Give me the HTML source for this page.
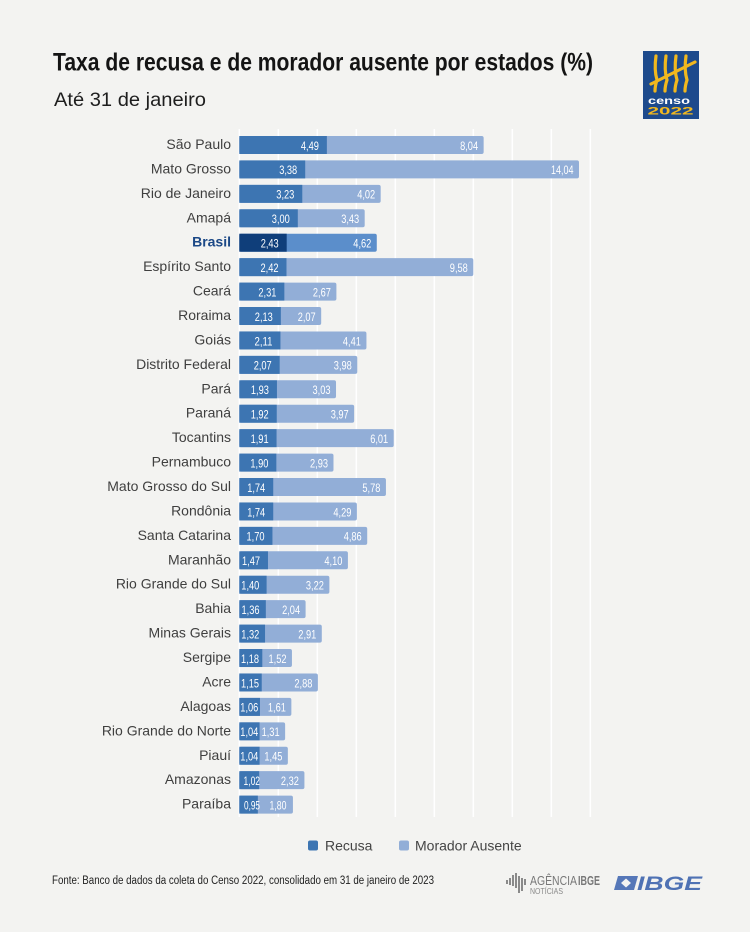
<!DOCTYPE html>
<html><head><meta charset="utf-8">
<style>
html,body{margin:0;padding:0;background:#f3f3f1;}
svg{display:block;}
.st{font-family:"Liberation Sans",sans-serif;font-size:14px;fill:#3f3f3f;text-anchor:end;}
.v{font-family:"Liberation Sans",sans-serif;font-size:12px;fill:#ffffff;text-anchor:end;}
</style></head>
<body>
<svg width="750" height="932" viewBox="0 0 750 932" xmlns="http://www.w3.org/2000/svg">
<rect width="750" height="932" fill="#f3f3f1"/>
<text x="53" y="70.5" font-family="Liberation Sans, sans-serif" font-weight="bold" font-size="25" fill="#141414" textLength="540" lengthAdjust="spacingAndGlyphs">Taxa de recusa e de morador ausente por estados (%)</text>
<text x="54" y="106" font-family="Liberation Sans, sans-serif" font-size="19.5" fill="#1e1e1e" textLength="152" lengthAdjust="spacingAndGlyphs">Até 31 de janeiro</text>

<!-- Censo logo -->
<rect x="643" y="51" width="56" height="68" fill="#1d4a8c"/>
<g stroke="#f2b81e" stroke-width="3.2" stroke-linecap="round" fill="none">
<path d="M656 56 Q654 70 657 80 Q655 86 655 91"/>
<path d="M666 56 Q664 70 667 80 Q665 86 665 91"/>
<path d="M676 56 Q674 70 677 80 Q675 86 675 91"/>
<path d="M686 56 Q684 70 687 80 Q685 86 685 91"/>
<path d="M651 84 L695 62"/>
</g>
<text x="669" y="104" text-anchor="middle" font-family="Liberation Sans, sans-serif" font-weight="bold" font-size="10" fill="#ffffff" textLength="42" lengthAdjust="spacingAndGlyphs">censo</text>
<text x="670.5" y="114.5" text-anchor="middle" font-family="Liberation Sans, sans-serif" font-weight="bold" font-size="11" fill="#f2b81e" textLength="46" lengthAdjust="spacingAndGlyphs">2022</text>

<!-- gridlines -->
<g stroke="#ffffff" stroke-width="1.5">
<line x1="239.3" y1="129" x2="239.3" y2="817"/>
<line x1="278.3" y1="129" x2="278.3" y2="817"/>
<line x1="317.3" y1="129" x2="317.3" y2="817"/>
<line x1="356.3" y1="129" x2="356.3" y2="817"/>
<line x1="395.3" y1="129" x2="395.3" y2="817"/>
<line x1="434.3" y1="129" x2="434.3" y2="817"/>
<line x1="473.3" y1="129" x2="473.3" y2="817"/>
<line x1="512.3" y1="129" x2="512.3" y2="817"/>
<line x1="551.3" y1="129" x2="551.3" y2="817"/>
<line x1="590.3" y1="129" x2="590.3" y2="817"/>
</g>

<g transform="translate(0,145)"><rect x="239.3" y="-9" width="244.34" height="18" rx="2" fill="#92aed7"/><rect x="239.3" y="-9" width="87.56" height="18" fill="#3d75b2"/><text x="231" y="4" class="st">São Paulo</text><text x="318.9" y="4.8" class="v" textLength="18" lengthAdjust="spacingAndGlyphs">4,49</text><text x="478.1" y="4.8" class="v" textLength="18" lengthAdjust="spacingAndGlyphs">8,04</text></g>
<g transform="translate(0,169.43)"><rect x="239.3" y="-9" width="339.69" height="18" rx="2" fill="#92aed7"/><rect x="239.3" y="-9" width="65.91" height="18" fill="#3d75b2"/><text x="231" y="4" class="st">Mato Grosso</text><text x="297.2" y="4.8" class="v" textLength="18" lengthAdjust="spacingAndGlyphs">3,38</text><text x="573.5" y="4.8" class="v" textLength="22.5" lengthAdjust="spacingAndGlyphs">14,04</text></g>
<g transform="translate(0,193.86)"><rect x="239.3" y="-9" width="141.38" height="18" rx="2" fill="#92aed7"/><rect x="239.3" y="-9" width="62.99" height="18" fill="#3d75b2"/><text x="231" y="4" class="st">Rio de Janeiro</text><text x="294.3" y="4.8" class="v" textLength="18" lengthAdjust="spacingAndGlyphs">3,23</text><text x="375.2" y="4.8" class="v" textLength="18" lengthAdjust="spacingAndGlyphs">4,02</text></g>
<g transform="translate(0,218.29)"><rect x="239.3" y="-9" width="125.39" height="18" rx="2" fill="#92aed7"/><rect x="239.3" y="-9" width="58.5" height="18" fill="#3d75b2"/><text x="231" y="4" class="st">Amapá</text><text x="289.8" y="4.8" class="v" textLength="18" lengthAdjust="spacingAndGlyphs">3,00</text><text x="359.2" y="4.8" class="v" textLength="18" lengthAdjust="spacingAndGlyphs">3,43</text></g>
<g transform="translate(0,242.72)"><rect x="239.3" y="-9" width="137.48" height="18" rx="2" fill="#5b8ecb"/><rect x="239.3" y="-9" width="47.39" height="18" fill="#0f3e7a"/><text x="231" y="4" class="st" style="font-weight:bold;fill:#1b4886">Brasil</text><text x="278.7" y="4.8" class="v" textLength="18" lengthAdjust="spacingAndGlyphs">2,43</text><text x="371.3" y="4.8" class="v" textLength="18" lengthAdjust="spacingAndGlyphs">4,62</text></g>
<g transform="translate(0,267.15)"><rect x="239.3" y="-9" width="234" height="18" rx="2" fill="#92aed7"/><rect x="239.3" y="-9" width="47.19" height="18" fill="#3d75b2"/><text x="231" y="4" class="st">Espírito Santo</text><text x="278.5" y="4.8" class="v" textLength="18" lengthAdjust="spacingAndGlyphs">2,42</text><text x="467.8" y="4.8" class="v" textLength="18" lengthAdjust="spacingAndGlyphs">9,58</text></g>
<g transform="translate(0,291.58)"><rect x="239.3" y="-9" width="97.11" height="18" rx="2" fill="#92aed7"/><rect x="239.3" y="-9" width="45.05" height="18" fill="#3d75b2"/><text x="231" y="4" class="st">Ceará</text><text x="276.4" y="4.8" class="v" textLength="18" lengthAdjust="spacingAndGlyphs">2,31</text><text x="330.9" y="4.8" class="v" textLength="18" lengthAdjust="spacingAndGlyphs">2,67</text></g>
<g transform="translate(0,316.01)"><rect x="239.3" y="-9" width="81.9" height="18" rx="2" fill="#92aed7"/><rect x="239.3" y="-9" width="41.54" height="18" fill="#3d75b2"/><text x="231" y="4" class="st">Roraima</text><text x="272.8" y="4.8" class="v" textLength="18" lengthAdjust="spacingAndGlyphs">2,13</text><text x="315.7" y="4.8" class="v" textLength="18" lengthAdjust="spacingAndGlyphs">2,07</text></g>
<g transform="translate(0,340.44)"><rect x="239.3" y="-9" width="127.14" height="18" rx="2" fill="#92aed7"/><rect x="239.3" y="-9" width="41.15" height="18" fill="#3d75b2"/><text x="231" y="4" class="st">Goiás</text><text x="272.5" y="4.8" class="v" textLength="18" lengthAdjust="spacingAndGlyphs">2,11</text><text x="360.9" y="4.8" class="v" textLength="18" lengthAdjust="spacingAndGlyphs">4,41</text></g>
<g transform="translate(0,364.87)"><rect x="239.3" y="-9" width="117.98" height="18" rx="2" fill="#92aed7"/><rect x="239.3" y="-9" width="40.37" height="18" fill="#3d75b2"/><text x="231" y="4" class="st">Distrito Federal</text><text x="271.7" y="4.8" class="v" textLength="18" lengthAdjust="spacingAndGlyphs">2,07</text><text x="351.8" y="4.8" class="v" textLength="18" lengthAdjust="spacingAndGlyphs">3,98</text></g>
<g transform="translate(0,389.3)"><rect x="239.3" y="-9" width="96.72" height="18" rx="2" fill="#92aed7"/><rect x="239.3" y="-9" width="37.64" height="18" fill="#3d75b2"/><text x="231" y="4" class="st">Pará</text><text x="268.9" y="4.8" class="v" textLength="18" lengthAdjust="spacingAndGlyphs">1,93</text><text x="330.5" y="4.8" class="v" textLength="18" lengthAdjust="spacingAndGlyphs">3,03</text></g>
<g transform="translate(0,413.73)"><rect x="239.3" y="-9" width="114.86" height="18" rx="2" fill="#92aed7"/><rect x="239.3" y="-9" width="37.44" height="18" fill="#3d75b2"/><text x="231" y="4" class="st">Paraná</text><text x="268.7" y="4.8" class="v" textLength="18" lengthAdjust="spacingAndGlyphs">1,92</text><text x="348.7" y="4.8" class="v" textLength="18" lengthAdjust="spacingAndGlyphs">3,97</text></g>
<g transform="translate(0,438.16)"><rect x="239.3" y="-9" width="154.44" height="18" rx="2" fill="#92aed7"/><rect x="239.3" y="-9" width="37.25" height="18" fill="#3d75b2"/><text x="231" y="4" class="st">Tocantins</text><text x="268.6" y="4.8" class="v" textLength="18" lengthAdjust="spacingAndGlyphs">1,91</text><text x="388.2" y="4.8" class="v" textLength="18" lengthAdjust="spacingAndGlyphs">6,01</text></g>
<g transform="translate(0,462.59)"><rect x="239.3" y="-9" width="94.19" height="18" rx="2" fill="#92aed7"/><rect x="239.3" y="-9" width="37.05" height="18" fill="#3d75b2"/><text x="231" y="4" class="st">Pernambuco</text><text x="268.4" y="4.8" class="v" textLength="18" lengthAdjust="spacingAndGlyphs">1,90</text><text x="328" y="4.8" class="v" textLength="18" lengthAdjust="spacingAndGlyphs">2,93</text></g>
<g transform="translate(0,487.02)"><rect x="239.3" y="-9" width="146.64" height="18" rx="2" fill="#92aed7"/><rect x="239.3" y="-9" width="33.93" height="18" fill="#3d75b2"/><text x="231" y="4" class="st">Mato Grosso do Sul</text><text x="265.2" y="4.8" class="v" textLength="18" lengthAdjust="spacingAndGlyphs">1,74</text><text x="380.4" y="4.8" class="v" textLength="18" lengthAdjust="spacingAndGlyphs">5,78</text></g>
<g transform="translate(0,511.45)"><rect x="239.3" y="-9" width="117.59" height="18" rx="2" fill="#92aed7"/><rect x="239.3" y="-9" width="33.93" height="18" fill="#3d75b2"/><text x="231" y="4" class="st">Rondônia</text><text x="265.2" y="4.8" class="v" textLength="18" lengthAdjust="spacingAndGlyphs">1,74</text><text x="351.4" y="4.8" class="v" textLength="18" lengthAdjust="spacingAndGlyphs">4,29</text></g>
<g transform="translate(0,535.88)"><rect x="239.3" y="-9" width="127.92" height="18" rx="2" fill="#92aed7"/><rect x="239.3" y="-9" width="33.15" height="18" fill="#3d75b2"/><text x="231" y="4" class="st">Santa Catarina</text><text x="264.5" y="4.8" class="v" textLength="18" lengthAdjust="spacingAndGlyphs">1,70</text><text x="361.7" y="4.8" class="v" textLength="18" lengthAdjust="spacingAndGlyphs">4,86</text></g>
<g transform="translate(0,560.31)"><rect x="239.3" y="-9" width="108.62" height="18" rx="2" fill="#92aed7"/><rect x="239.3" y="-9" width="28.67" height="18" fill="#3d75b2"/><text x="231" y="4" class="st">Maranhão</text><text x="260" y="4.8" class="v" textLength="18" lengthAdjust="spacingAndGlyphs">1,47</text><text x="342.4" y="4.8" class="v" textLength="18" lengthAdjust="spacingAndGlyphs">4,10</text></g>
<g transform="translate(0,584.74)"><rect x="239.3" y="-9" width="90.09" height="18" rx="2" fill="#92aed7"/><rect x="239.3" y="-9" width="27.3" height="18" fill="#3d75b2"/><text x="231" y="4" class="st">Rio Grande do Sul</text><text x="259.3" y="4.8" class="v" textLength="18" lengthAdjust="spacingAndGlyphs">1,40</text><text x="323.9" y="4.8" class="v" textLength="18" lengthAdjust="spacingAndGlyphs">3,22</text></g>
<g transform="translate(0,609.17)"><rect x="239.3" y="-9" width="66.3" height="18" rx="2" fill="#92aed7"/><rect x="239.3" y="-9" width="26.52" height="18" fill="#3d75b2"/><text x="231" y="4" class="st">Bahia</text><text x="259.5" y="4.8" class="v" textLength="18" lengthAdjust="spacingAndGlyphs">1,36</text><text x="300.1" y="4.8" class="v" textLength="18" lengthAdjust="spacingAndGlyphs">2,04</text></g>
<g transform="translate(0,633.6)"><rect x="239.3" y="-9" width="82.49" height="18" rx="2" fill="#92aed7"/><rect x="239.3" y="-9" width="25.74" height="18" fill="#3d75b2"/><text x="231" y="4" class="st">Minas Gerais</text><text x="259.3" y="4.8" class="v" textLength="18" lengthAdjust="spacingAndGlyphs">1,32</text><text x="316.3" y="4.8" class="v" textLength="18" lengthAdjust="spacingAndGlyphs">2,91</text></g>
<g transform="translate(0,658.03)"><rect x="239.3" y="-9" width="52.65" height="18" rx="2" fill="#92aed7"/><rect x="239.3" y="-9" width="23.01" height="18" fill="#3d75b2"/><text x="231" y="4" class="st">Sergipe</text><text x="259" y="4.8" class="v" textLength="18" lengthAdjust="spacingAndGlyphs">1,18</text><text x="286.5" y="4.8" class="v" textLength="18" lengthAdjust="spacingAndGlyphs">1,52</text></g>
<g transform="translate(0,682.46)"><rect x="239.3" y="-9" width="78.59" height="18" rx="2" fill="#92aed7"/><rect x="239.3" y="-9" width="22.43" height="18" fill="#3d75b2"/><text x="231" y="4" class="st">Acre</text><text x="259" y="4.8" class="v" textLength="18" lengthAdjust="spacingAndGlyphs">1,15</text><text x="312.4" y="4.8" class="v" textLength="18" lengthAdjust="spacingAndGlyphs">2,88</text></g>
<g transform="translate(0,706.89)"><rect x="239.3" y="-9" width="52.07" height="18" rx="2" fill="#92aed7"/><rect x="239.3" y="-9" width="20.67" height="18" fill="#3d75b2"/><text x="231" y="4" class="st">Alagoas</text><text x="258.3" y="4.8" class="v" textLength="18" lengthAdjust="spacingAndGlyphs">1,06</text><text x="285.9" y="4.8" class="v" textLength="18" lengthAdjust="spacingAndGlyphs">1,61</text></g>
<g transform="translate(0,731.32)"><rect x="239.3" y="-9" width="45.83" height="18" rx="2" fill="#92aed7"/><rect x="239.3" y="-9" width="20.28" height="18" fill="#3d75b2"/><text x="231" y="4" class="st">Rio Grande do Norte</text><text x="258.3" y="4.8" class="v" textLength="18" lengthAdjust="spacingAndGlyphs">1,04</text><text x="279.6" y="4.8" class="v" textLength="18" lengthAdjust="spacingAndGlyphs">1,31</text></g>
<g transform="translate(0,755.75)"><rect x="239.3" y="-9" width="48.56" height="18" rx="2" fill="#92aed7"/><rect x="239.3" y="-9" width="20.28" height="18" fill="#3d75b2"/><text x="231" y="4" class="st">Piauí</text><text x="258.3" y="4.8" class="v" textLength="18" lengthAdjust="spacingAndGlyphs">1,04</text><text x="282.4" y="4.8" class="v" textLength="18" lengthAdjust="spacingAndGlyphs">1,45</text></g>
<g transform="translate(0,780.18)"><rect x="239.3" y="-9" width="65.13" height="18" rx="2" fill="#92aed7"/><rect x="239.3" y="-9" width="19.89" height="18" fill="#3d75b2"/><text x="231" y="4" class="st">Amazonas</text><text x="260" y="4.8" class="v" textLength="16.5" lengthAdjust="spacingAndGlyphs">1,02</text><text x="298.9" y="4.8" class="v" textLength="18" lengthAdjust="spacingAndGlyphs">2,32</text></g>
<g transform="translate(0,804.61)"><rect x="239.3" y="-9" width="53.63" height="18" rx="2" fill="#92aed7"/><rect x="239.3" y="-9" width="18.53" height="18" fill="#3d75b2"/><text x="231" y="4" class="st">Paraíba</text><text x="260" y="4.8" class="v" textLength="16" lengthAdjust="spacingAndGlyphs">0,95</text><text x="286.5" y="4.8" class="v" textLength="17" lengthAdjust="spacingAndGlyphs">1,80</text></g>

<!-- legend -->
<rect x="308" y="840.5" width="10" height="10" rx="2" fill="#3d75b2"/>
<text x="325" y="850.5" font-family="Liberation Sans, sans-serif" font-size="14" fill="#444">Recusa</text>
<rect x="399" y="840.5" width="10" height="10" rx="2" fill="#92aed7"/>
<text x="415" y="850.5" font-family="Liberation Sans, sans-serif" font-size="14" fill="#444">Morador Ausente</text>

<!-- footer -->
<text x="52" y="884" font-family="Liberation Sans, sans-serif" font-size="11.5" fill="#222" textLength="382" lengthAdjust="spacingAndGlyphs">Fonte: Banco de dados da coleta do Censo 2022, consolidado em 31 de janeiro de 2023</text>

<!-- Agencia IBGE logo -->
<g fill="#8a8a8a">
<rect x="506" y="880" width="2" height="4"/>
<rect x="509" y="878" width="2" height="7"/>
<rect x="512" y="875" width="2" height="11"/>
<rect x="515" y="873" width="2" height="15"/>
<rect x="518" y="876" width="2" height="17"/>
<rect x="521" y="878" width="2" height="13"/>
<rect x="524" y="879" width="2" height="6"/>
</g>
<text x="530" y="885" font-family="Liberation Sans, sans-serif" font-size="13" fill="#777" textLength="47" lengthAdjust="spacingAndGlyphs">AGÊNCIA</text>
<text x="578" y="885" font-family="Liberation Sans, sans-serif" font-weight="bold" font-size="13" fill="#777" textLength="22" lengthAdjust="spacingAndGlyphs">IBGE</text>
<text x="530" y="894" font-family="Liberation Sans, sans-serif" font-size="8" fill="#888" textLength="33" lengthAdjust="spacingAndGlyphs">NOTÍCIAS</text>

<!-- IBGE logo -->
<path d="M618 876 L638 876 L634 890 L614 890 Z" fill="#5577b8"/>
<path d="M626 878.5 L631 883 L626 887.5 L621 883 Z" fill="#f3f3f1"/>
<text x="637" y="890" font-family="Liberation Sans, sans-serif" font-weight="bold" font-style="italic" font-size="19.5" fill="#4f72b4" textLength="65" lengthAdjust="spacingAndGlyphs">IBGE</text>
</svg>
</body></html>
